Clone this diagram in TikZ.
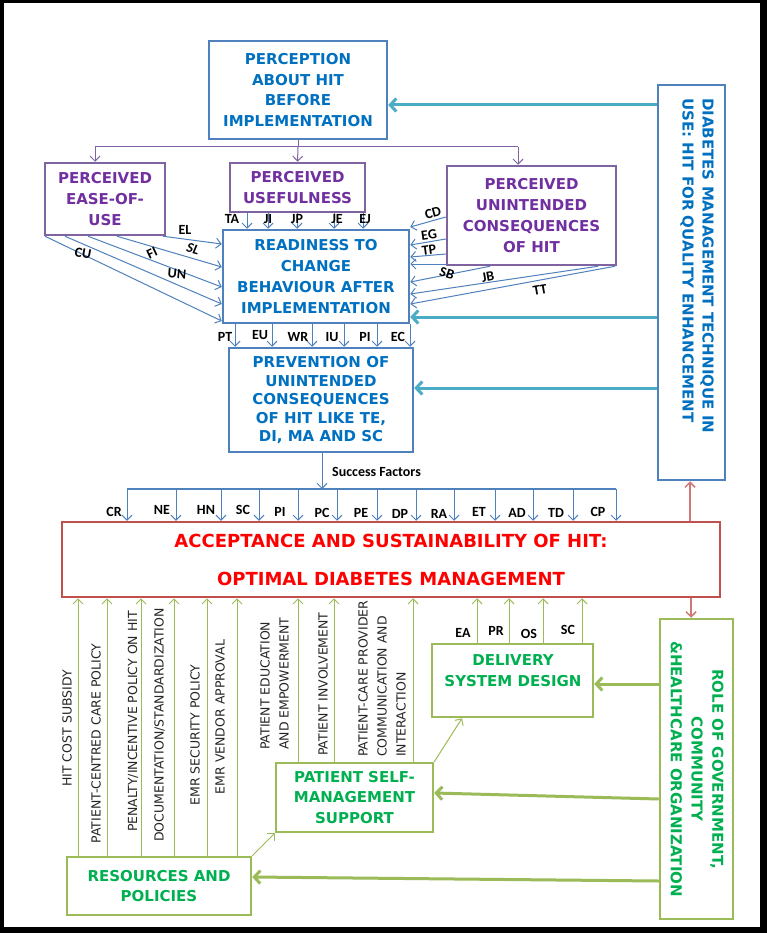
\documentclass[tikz,border=0pt]{standalone}
\usepackage{fontspec}
\setmainfont{DejaVu Sans}
\newfontfamily\labfont{Carlito}
\usetikzlibrary{arrows.meta}
\definecolor{bbord}{HTML}{4F81BD}
\definecolor{btext}{HTML}{0070C0}
\definecolor{pbord}{HTML}{8064A2}
\definecolor{ptext}{HTML}{7030A0}
\definecolor{rbord}{HTML}{C0504D}
\definecolor{rarrow}{HTML}{D07A78}
\definecolor{gbord}{HTML}{9BBB59}
\definecolor{gtext}{HTML}{00B050}
\definecolor{tealc}{HTML}{4BACC6}
\begin{document}
\begin{tikzpicture}[x=1pt,y=-1pt,
  titlefont/.style={font=\fontsize{15}{20.7}\selectfont\bfseries},
  box/.style={draw, line width=2.5pt, inner sep=0pt, align=center, titlefont},
  bluebox/.style={box, draw=bbord, text=btext},
  purplebox/.style={box, draw=pbord, text=ptext},
  greenbox/.style={box, draw=gbord, text=gtext},
  redbox/.style={box, draw=rbord, text=red},
  tip/.style={-{Straight Barb[length=5pt,width=10pt]}},
  bthin/.style={tip, line width=1pt, draw=bbord},
  pthin/.style={tip, line width=1pt, draw=pbord},
  gthin/.style={tip, line width=1pt, draw=gbord},
  rthin/.style={tip, line width=1.5pt, draw=rarrow},
  tthick/.style={-{Straight Barb[length=6pt,width=13pt]}, line width=3pt, draw=tealc},
  gthick/.style={-{Straight Barb[length=6pt,width=13pt]}, line width=3pt, draw=gbord},
  lab/.style={font=\labfont\fontsize{14}{14}\selectfont\bfseries, inner sep=0pt},
  vlab/.style={rotate=90, font=\fontsize{12.5}{19}\selectfont, inner sep=0pt, align=left, text=black!85},
]
\useasboundingbox (0,0) rectangle (767,933);
\fill[black] (0,0) rectangle (767,933);
\fill[white] (4,3) rectangle (760,927);

% boxes
\node[bluebox, minimum width=178pt, minimum height=98pt] (perc) at (298,90) {PERCEPTION\\ABOUT HIT\\BEFORE\\IMPLEMENTATION};
\node[purplebox, minimum width=120pt, minimum height=72pt] (ease) at (105,199) {PERCEIVED\\EASE-OF-\\USE};
\node[purplebox, minimum width=135pt, minimum height=49pt] (useful) at (297.5,187.5) {PERCEIVED\\USEFULNESS};
\node[purplebox, minimum width=169pt, minimum height=99pt] (unint) at (531.5,215.5) {PERCEIVED\\UNINTENDED\\CONSEQUENCES\\OF HIT};
\node[bluebox, minimum width=186pt, minimum height=93pt] (ready) at (316,276.5) {READINESS TO\\CHANGE\\BEHAVIOUR AFTER\\IMPLEMENTATION};
\node[bluebox, minimum width=184pt, minimum height=104pt, font=\fontsize{15}{18.5}\selectfont\bfseries] (prev) at (321,400) {PREVENTION OF\\UNINTENDED\\CONSEQUENCES\\OF HIT LIKE TE,\\DI, MA AND SC};
\node[bluebox, minimum width=67pt, minimum height=395pt] (diab) at (691.5,282.5) {};
\node[rotate=-90, anchor=north west, align=left, inner sep=0pt, text=btext, font=\fontsize{15}{20}\selectfont\bfseries] (diabtext) at (714,98) {DIABETES MANAGEMENT TECHNIQUE IN\\USE: HIT FOR QUALITY ENHANCEMENT};
\node[redbox, minimum width=658pt, minimum height=75pt, font=\fontsize{18}{38}\selectfont\bfseries] (acc) at (391,559.5) {ACCEPTANCE AND SUSTAINABILITY OF HIT:\\OPTIMAL DIABETES MANAGEMENT};
\node[greenbox, minimum width=73pt, minimum height=300pt] (role) at (696.5,769) {};
\node[rotate=-90, align=center, inner sep=0pt, text=gtext, titlefont] (roletext) at (697,769) {ROLE OF GOVERNMENT,\\COMMUNITY\\\&HEALTHCARE ORGANIZATION};
\node[greenbox, minimum width=161pt, minimum height=73pt] (deliv) at (512.5,680.5) {};
\node[align=center, inner sep=0pt, text=gtext, titlefont] (delivtext) at (513,670.5) {DELIVERY\\SYSTEM DESIGN};
\node[greenbox, minimum width=157pt, minimum height=69pt] (patient) at (354.5,797.5) {PATIENT SELF-\\MANAGEMENT\\SUPPORT};
\node[greenbox, minimum width=184pt, minimum height=58pt] (res) at (159,886) {RESOURCES AND\\POLICIES};

% teal arrows
\draw[tthick] (diab.west |- 0,105) -- (perc.east |- 0,105);
\draw[tthick] (diab.west |- 0,317) -- (ready.east |- 0,317);
\draw[tthick] (diab.west |- 0,388) -- (prev.east |- 0,388);

% purple tree
\coordinate (tree) at (298,147);
\draw[line width=1pt, draw=pbord] (perc.south) -- (tree);
\draw[line width=1pt, draw=pbord] (95,147) -- (518,147);
\draw[pthin] (95,147) -- (95,0 |- ease.north);
\draw[pthin] (tree) -- (useful.north);
\draw[pthin] (518,147) -- (518,0 |- unint.north);

% usefulness -> readiness
\foreach \x in {247,268,297,334,363}
  \draw[bthin] (\x,0 |- useful.south) -- (\x,0 |- ready.north);
\node[lab] (lTA) at (232,219) {TA};
\node[lab] (lJI) at (268,219) {JI};
\node[lab] (lJP) at (297,219) {JP};
\node[lab] (lJE) at (337,219) {JE};
\node[lab] (lEJ) at (365,219) {EJ};

% ease -> readiness
\draw[bthin] (163,0 |- ease.south) -- (ready.west |- 0,244);
\draw[bthin] (117,0 |- ease.south) -- (ready.west |- 0,267);
\draw[bthin] (88,0 |- ease.south) -- (ready.west |- 0,287);
\draw[bthin] (65,0 |- ease.south) -- (ready.west |- 0,304);
\draw[bthin] (45,0 |- ease.south) -- (ready.west |- 0,321);
\node[lab] (lEL) at (185,230) {EL};
\node[lab, rotate=-15, font=\labfont\fontsize{14}{14}\selectfont\bfseries\itshape] (lSL) at (193,249) {SL};
\node[lab, rotate=25] (lFI) at (152,253) {FI};
\node[lab, rotate=-5] (lUN) at (177,274) {UN};
\node[lab, rotate=-10] (lCU) at (83,253) {CU};

% unintended -> readiness
\draw[bthin] (unint.west |- 0,217) -- (ready.east |- 0,227);
\draw[bthin] (unint.west |- 0,239) -- (ready.east |- 0,245);
\draw[bthin] (unint.west |- 0,254) -- (ready.east |- 0,257);
\draw[bthin] (unint.west |- 0,264) -- (ready.east |- 0,264);
\draw[bthin] (490,0 |- unint.south) -- (ready.east |- 0,282);
\draw[bthin] (598,0 |- unint.south) -- (ready.east |- 0,294);
\draw[bthin] (615,0 |- unint.south) -- (ready.east |- 0,304);
\node[lab, rotate=15] (lCD) at (433,213) {CD};
\node[lab, rotate=8] (lEG) at (429,235) {EG};
\node[lab, rotate=8] (lTP) at (429,250) {TP};
\node[lab, rotate=-18] (lSB) at (447,273) {SB};
\node[lab, rotate=10] (lJB) at (488,277) {JB};
\node[lab, rotate=10] (lTT) at (540,290) {TT};

% readiness -> prevention
\foreach \x in {235,272,312,344,377,410}
  \draw[bthin] (\x,0 |- ready.south) -- (\x,0 |- prev.north);
\node[lab] (lPT) at (225,337) {PT};
\node[lab] (lEU) at (260,335) {EU};
\node[lab] (lWR) at (298,337) {WR};
\node[lab] (lIU) at (332,337) {IU};
\node[lab] (lPI) at (365,337) {PI};
\node[lab] (lEC) at (398,337) {EC};

% success factors
\coordinate (sf) at (322,489);
\draw[bthin] (prev.south -| sf) -- (sf);
\node[lab, anchor=west] (lsf) at (332,472) {Success Factors};
\draw[line width=1.2pt, draw=bbord] (127,489) -- (616,489);
\foreach \x in {127,176,221,259,298,337,377,416,454,495,533,573,616}
  \draw[bthin] (\x,489) -- (\x,0 |- acc.north);
\foreach \t/\x/\y in {CR/114/512,NE/162/510,HN/206/510,SC/243/510,PI/280/512,PC/322/513,PE/361/513,DP/400/514,RA/439/514,ET/479/512,AD/517/513,TD/556/513,CP/598/512}
  \node[lab] at (\x,\y) {\t};

% red arrows
\draw[rthin] (690,0 |- acc.north) -- (690,0 |- diab.south);
\draw[rthin] (691,0 |- acc.south) -- (691,0 |- role.north);

% delivery -> acceptance
\foreach \x in {477,509,543,582}
  \draw[gthin] (\x,0 |- deliv.north) -- (\x,0 |- acc.south);
\node[lab] (lEA) at (463,633) {EA};
\node[lab] (lPR) at (496,631) {PR};
\node[lab] (lOS) at (529,634) {OS};
\node[lab] (lSC2) at (568,630) {SC};

% role -> boxes
\draw[gthick] (role.west |- 0,684) -- (deliv.east |- 0,684);
\draw[gthick] (role.west |- 0,799) -- (patient.east |- 0,793);
\draw[gthick] (role.west |- 0,881) -- (res.east |- 0,877);

% thin diagonal links
\draw[gthin] (patient.north east) -- (462,0 |- deliv.south);
\draw[gthin] (res.north east) -- (patient.south west);

% resources -> acceptance
\foreach \x in {78,107,141,174,207,237}
  \draw[gthin] (\x,0 |- res.north) -- (\x,0 |- acc.south);
\node[vlab] (v1) at (67,728.5) {HIT COST SUBSIDY};
\node[vlab] (v2) at (96,743.5) {PATIENT-CENTRED CARE POLICY};
\node[vlab] (v3) at (133,721.5) {PENALTY/INCENTIVE POLICY ON HIT};
\node[vlab] (v4) at (159.5,725) {DOCUMENTATION/STANDARDIZATION};
\node[vlab] (v5) at (195,735) {EMR SECURITY POLICY};
\node[vlab] (v6) at (220,717) {EMR VENDOR APPROVAL};

% patient -> acceptance
\foreach \x in {298,334,413}
  \draw[gthin] (\x,0 |- patient.north) -- (\x,0 |- acc.south);
\node[vlab, anchor=west] (v7) at (274.5,750) {PATIENT EDUCATION\\AND EMPOWERMENT};
\node[vlab, anchor=west] (v8) at (323,756) {PATIENT INVOLVEMENT};
\node[vlab, anchor=west] (v9) at (382,757) {PATIENT-CARE PROVIDER\\COMMUNICATION AND\\INTERACTION};
\end{tikzpicture}
\end{document}
